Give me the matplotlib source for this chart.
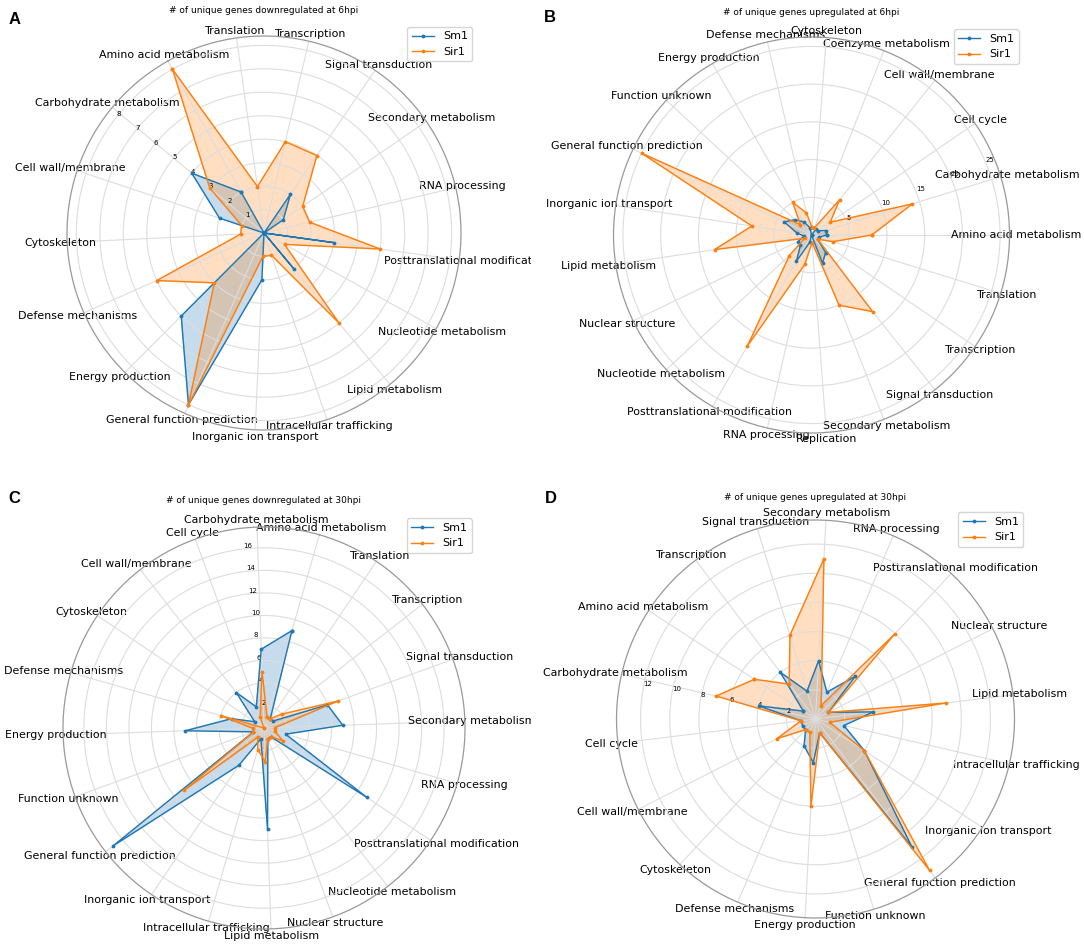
import numpy as np
import matplotlib
matplotlib.use("Agg")
import matplotlib.pyplot as plt
from matplotlib.transforms import Bbox, TransformedBbox

# ---- panel A : downregulated at 6hpi
cats_a = ["Amino acid metabolism", "Carbohydrate metabolism", "Cell wall/membrane",
          "Cytoskeleton", "Defense mechanisms", "Energy production",
          "General function prediction", "Inorganic ion transport",
          "Intracellular trafficking", "Lipid metabolism", "Nucleotide metabolism",
          "Posttranslational modification", "RNA processing", "Secondary metabolism",
          "Signal transduction", "Transcription", "Translation"]
sm1_a = [2, 4, 2, 0, 0, 5, 8, 2, 0, 2, 0, 3, 0, 1, 2, 0, 0]
sir1_a = [8, 3, 1, 1, 5, 3, 8, 1, 1, 5, 1, 5, 2, 2, 4, 4, 2]

# ---- panel B : upregulated at 6hpi
cats_b = ["Amino acid metabolism", "Carbohydrate metabolism", "Cell cycle",
          "Cell wall/membrane", "Coenzyme metabolism", "Cytoskeleton",
          "Defense mechanisms", "Energy production", "Function unknown",
          "General function prediction", "Inorganic ion transport", "Lipid metabolism",
          "Nuclear structure", "Nucleotide metabolism", "Posttranslational modification",
          "RNA processing", "Replication", "Secondary metabolism",
          "Signal transduction", "Transcription", "Translation"]
sm1_b = [2, 2, 1, 1, 0, 0, 1, 2, 3, 4, 2, 1, 2, 2, 4, 1, 0, 4, 3, 1, 1]
sir1_b = [8, 14, 3, 6, 1, 1, 3, 5, 2, 25, 8, 13, 1, 4, 17, 4, 1, 10, 13, 1, 3]

# ---- panel C : downregulated at 30hpi
cats_c = ["Amino acid metabolism", "Carbohydrate metabolism", "Cell cycle",
          "Cell wall/membrane", "Cytoskeleton", "Defense mechanisms",
          "Energy production", "Function unknown", "General function prediction",
          "Inorganic ion transport", "Intracellular trafficking", "Lipid metabolism",
          "Nuclear structure", "Nucleotide metabolism", "Posttranslational modification",
          "RNA processing", "Secondary metabolism", "Signal transduction",
          "Transcription", "Translation"]
sm1_c = [9, 7, 2, 4, 1, 3, 7, 1, 17, 4, 1, 9, 1, 1, 11, 2, 7, 6, 1, 1]
sir1_c = [1, 5, 1, 0, 0, 4, 1, 1, 9, 1, 2, 3, 1, 1, 2, 1, 1, 7, 2, 1]

# ---- panel D : upregulated at 30hpi
cats_d = ["Amino acid metabolism", "Carbohydrate metabolism", "Cell cycle",
          "Cell wall/membrane", "Cytoskeleton", "Defense mechanisms",
          "Energy production", "Function unknown", "General function prediction",
          "Inorganic ion transport", "Intracellular trafficking", "Lipid metabolism",
          "Nuclear structure", "Posttranslational modification", "RNA processing",
          "Secondary metabolism", "Signal transduction", "Transcription"]
sm1_d = [1, 4, 1, 1, 1, 2, 3, 1, 11, 4, 2, 4, 1, 4, 2, 4, 2, 4]
sir1_d = [5, 7, 1, 3, 1, 1, 6, 1, 13, 4, 1, 9, 1, 8, 1, 11, 6, 3]

titles = ["# of unique genes downregulated at 6hpi",
          "# of unique genes upregulated at 6hpi",
          "# of unique genes downregulated at 30hpi",
          "# of unique genes upregulated at 30hpi"]

W, H = 1084, 947
fig = plt.figure(figsize=(W / 100, H / 100), dpi=100)


def radar(cx, cy, r, cats, sm1, sir1, offset, rticks, title, ty, letter, lx, ly, leg):
    ax = fig.add_axes([(cx - r) / W, 1 - (cy + r) / H, 2 * r / W, 2 * r / H], polar=True)
    n = len(cats)
    ang = np.linspace(0, 2 * np.pi, n, endpoint=False)
    angc = np.append(ang, ang[0])
    ax.set_theta_offset(np.deg2rad(offset))
    for vals, lab, col in ((sm1, "Sm1", "#1f77b4"), (sir1, "Sir1", "#ff7f0e")):
        v = np.append(vals, vals[0])
        ax.plot(angc, v, color=col, lw=1, marker=".", ms=3.5, label=lab)
        ax.fill(angc, v, color=col, alpha=0.25)
    ax.set_xticks(ang)
    ax.set_xticklabels(cats, fontsize=7.9)
    ax.tick_params(axis="x", pad=-5.5)
    ax.set_ylim(0, max(max(sm1), max(sir1)) * 1.05)
    ax.set_yticks(rticks)
    ax.set_yticklabels([str(t) for t in rticks], fontsize=5)
    ax.grid(color="#dddddd", lw=0.8)
    ax.spines["polar"].set_color("#999999")
    ax.spines["polar"].set_linewidth(0.9)
    ax.legend(loc="upper right", bbox_to_anchor=leg, fontsize=8)
    fig.text(cx / W, 1 - ty / H, title, fontsize=6.5, ha="center", va="center")
    fig.text(lx / W, 1 - ly / H, letter, fontsize=12, fontweight="bold",
             family="Liberation Sans", ha="center", va="center")
    return ax


ax_a = radar(264, 233, 197, cats_a, sm1_a, sir1_a, 119.2, list(range(1, 9)),
             titles[0], 10.5, "A", 14.5, 20, (1.043, 1.037))
ax_b = radar(811.5, 235, 198, cats_b, sm1_b, sir1_b, 0, [5, 10, 15, 20, 25],
             titles[1], 12.5, "B", 550, 18, (1.037, 1.033))
ax_c = radar(264, 728, 201, cats_c, sm1_c, sir1_c, 74, list(range(2, 17, 2)),
             titles[2], 500, "C", 14.5, 498.5, (1.03, 1.035))
ax_d = radar(815.5, 719, 199, cats_d, sm1_d, sir1_d, 147, list(range(2, 13, 2)),
             titles[3], 497, "D", 551, 498.5, (1.036, 1.033))

# the left panels were cropped at the middle of the figure
clip = TransformedBbox(Bbox([[0, 0], [531 / W, 1]]), fig.transFigure)
for ax in (ax_a, ax_c):
    for lab in ax.get_xticklabels():
        lab.set_clip_box(clip)
        lab.set_clip_on(True)

fig.savefig("out.png", dpi=100)
